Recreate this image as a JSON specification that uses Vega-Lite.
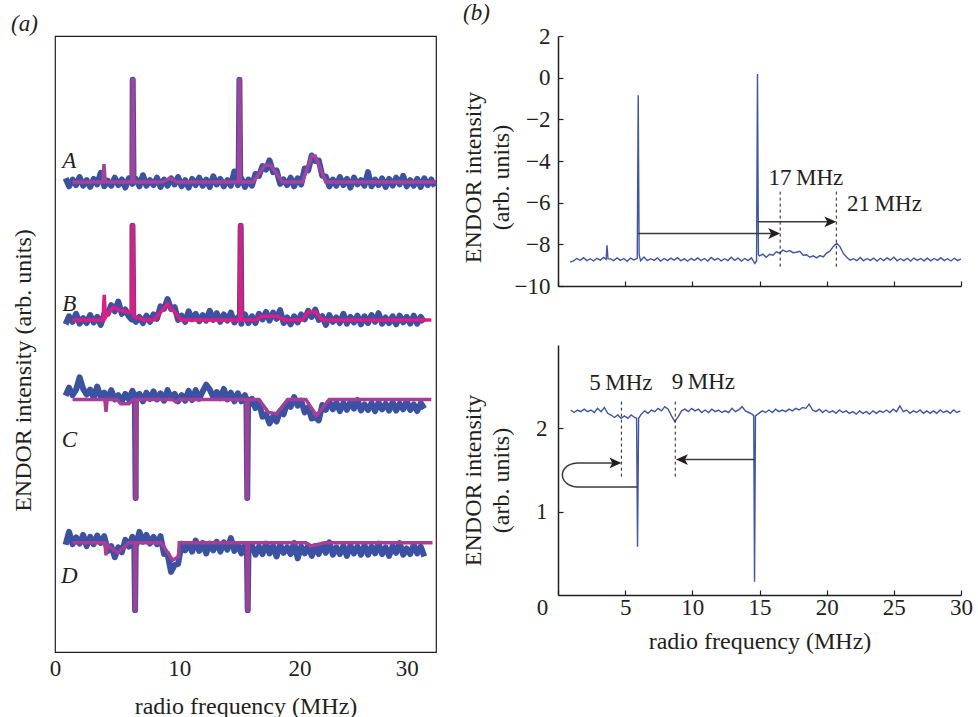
{
"$schema":"https://vega.github.io/schema/vega-lite/v6.json",
"background":"white",
"padding":{"left":10,"top":2,"right":0,"bottom":0},
"config":{"font":"Liberation Serif","view":{"stroke":null},
"axis":{"grid":false,"labelFont":"Liberation Serif","titleFont":"Liberation Serif","labelFontSize":23,"titleFontSize":24,"titleFontWeight":"normal","labelColor":"#231f20","titleColor":"#231f20","domainColor":"#231f20","tickColor":"#231f20","domainWidth":1.5,"tickWidth":1.2},
"title":{"font":"Liberation Serif","fontSize":23,"fontWeight":"normal","fontStyle":"italic","color":"#231f20"},
"text":{"font":"Liberation Serif"}},
"datasets":{
"wide":[
{"f":0.9,"A":76.9,"B":53.2,"C":41.6,"D":17.4},{"f":1.2,"A":75.6,"B":54.5,"C":42.9,"D":19.5},{"f":1.5,"A":76.7,"B":53.6,"C":41.7,"D":17.5},{"f":1.8,"A":75.8,"B":54.9,"C":42.6,"D":18.6},{"f":2.1,"A":77.1,"B":53.3,"C":44.6,"D":17.6},{"f":2.4,"A":75.7,"B":54.2,"C":42.7,"D":19.0},{"f":2.7,"A":76.6,"B":53.4,"C":41.8,"D":17.2},{"f":3.0,"A":75.5,"B":54.7,"C":42.6,"D":18.7},{"f":3.3,"A":76.8,"B":53.5,"C":41.3,"D":17.5},{"f":3.6,"A":75.9,"B":54.4,"C":43.1,"D":18.9},
{"f":3.9,"A":77.8,"B":53.1,"C":41.4,"D":17.7},{"f":4.2,"A":75.6,"B":54.9,"C":42.1,"D":18.8},{"f":4.5,"A":76.5,"B":54.9,"C":41.3,"D":16.4},{"f":4.8,"A":75.7,"B":56.3,"C":42.5,"D":17.2},{"f":5.1,"A":77.0,"B":55.3,"C":41.0,"D":15.4},{"f":5.4,"A":75.8,"B":56.9,"C":41.7,"D":17.0},{"f":5.7,"A":76.7,"B":54.9,"C":40.7,"D":16.2},{"f":6.0,"A":75.4,"B":55.6,"C":41.9,"D":18.2},{"f":6.3,"A":76.9,"B":54.5,"C":41.0,"D":17.1},{"f":6.6,"A":76.0,"B":55.5,"C":42.4,"D":18.7},
{"f":6.9,"A":76.8,"B":53.6,"C":40.9,"D":17.2},{"f":7.2,"A":75.6,"B":54.4,"C":41.9,"D":19.5},{"f":7.5,"A":77.4,"B":53.4,"C":40.7,"D":17.9},{"f":7.8,"A":75.7,"B":54.6,"C":42.1,"D":19.0},{"f":8.1,"A":76.6,"B":53.6,"C":41.1,"D":17.6},{"f":8.4,"A":75.8,"B":54.8,"C":42.3,"D":18.7},{"f":8.7,"A":77.0,"B":54.1,"C":41.0,"D":17.5},{"f":9.0,"A":75.5,"B":56.1,"C":42.0,"D":18.8},{"f":9.3,"A":76.7,"B":55.7,"C":40.8,"D":15.9},{"f":9.6,"A":75.7,"B":57.3,"C":42.5,"D":15.9},
{"f":9.9,"A":76.9,"B":55.7,"C":41.2,"D":13.0},{"f":10.2,"A":75.9,"B":56.0,"C":41.9,"D":14.1},{"f":10.5,"A":77.1,"B":53.9,"C":40.7,"D":14.3},{"f":10.8,"A":75.6,"B":54.6,"C":41.7,"D":17.6},{"f":11.1,"A":76.6,"B":53.6,"C":40.8,"D":16.5},{"f":11.4,"A":75.4,"B":55.3,"C":42.4,"D":17.5},{"f":11.7,"A":76.8,"B":54.0,"C":40.9,"D":16.3},{"f":12.0,"A":75.8,"B":54.9,"C":42.5,"D":18.1},{"f":12.3,"A":77.0,"B":53.7,"C":41.1,"D":16.4},{"f":12.6,"A":75.7,"B":54.7,"C":42.3,"D":17.7},
{"f":12.9,"A":76.7,"B":53.8,"C":43.4,"D":16.0},{"f":13.2,"A":75.5,"B":55.4,"C":42.6,"D":17.6},{"f":13.5,"A":77.2,"B":53.9,"C":41.4,"D":16.5},{"f":13.8,"A":75.9,"B":55.0,"C":42.2,"D":17.9},{"f":14.1,"A":76.8,"B":53.6,"C":41.2,"D":16.3},{"f":14.4,"A":75.6,"B":54.8,"C":42.7,"D":17.8},{"f":14.7,"A":76.6,"B":53.8,"C":41.0,"D":16.6},{"f":15.0,"A":75.7,"B":55.1,"C":42.1,"D":18.5},{"f":15.3,"A":78.0,"B":53.5,"C":40.7,"D":16.4},{"f":15.6,"A":75.8,"B":54.3,"C":42.0,"D":17.5},
{"f":15.9,"A":76.9,"B":53.3,"C":40.7,"D":16.0},{"f":16.2,"A":75.5,"B":54.8,"C":41.7,"D":17.4},{"f":16.5,"A":76.7,"B":53.4,"C":39.9,"D":16.0},{"f":16.8,"A":75.7,"B":54.5,"C":41.1,"D":17.3},{"f":17.1,"A":77.6,"B":53.4,"C":39.6,"D":15.8},{"f":17.4,"A":77.3,"B":54.9,"C":40.6,"D":17.1},{"f":17.7,"A":78.9,"B":54.0,"C":38.2,"D":15.9},{"f":18.0,"A":78.3,"B":55.2,"C":38.6,"D":17.6},{"f":18.3,"A":79.8,"B":53.8,"C":37.1,"D":16.0},{"f":18.6,"A":77.9,"B":55.1,"C":38.2,"D":17.2},
{"f":18.9,"A":78.2,"B":54.1,"C":37.4,"D":15.5},{"f":19.2,"A":76.0,"B":55.5,"C":39.1,"D":17.4},{"f":19.5,"A":76.7,"B":53.4,"C":38.6,"D":16.1},{"f":19.8,"A":75.8,"B":54.3,"C":40.4,"D":17.0},{"f":20.1,"A":77.0,"B":53.2,"C":39.8,"D":15.9},{"f":20.4,"A":75.6,"B":54.5,"C":41.4,"D":17.7},{"f":20.7,"A":76.9,"B":53.5,"C":40.0,"D":15.2},{"f":21.0,"A":75.9,"B":54.8,"C":40.8,"D":17.1},{"f":21.3,"A":78.5,"B":54.0,"C":38.9,"D":16.0},{"f":21.6,"A":78.2,"B":55.4,"C":39.7,"D":17.3},
{"f":21.9,"A":80.6,"B":54.4,"C":37.9,"D":15.6},{"f":22.2,"A":79.7,"B":55.6,"C":38.1,"D":17.2},{"f":22.5,"A":79.8,"B":53.9,"C":37.6,"D":15.9},{"f":22.8,"A":77.3,"B":54.5,"C":40.1,"D":17.4},{"f":23.1,"A":77.2,"B":53.1,"C":39.3,"D":16.1},{"f":23.4,"A":75.6,"B":54.7,"C":40.6,"D":17.8},{"f":23.7,"A":76.7,"B":53.6,"C":39.4,"D":15.8},{"f":24.0,"A":75.7,"B":54.3,"C":40.5,"D":17.0},{"f":24.3,"A":77.1,"B":53.4,"C":39.1,"D":15.9},{"f":24.6,"A":75.8,"B":54.9,"C":40.4,"D":17.2},
{"f":24.9,"A":76.8,"B":53.3,"C":39.3,"D":15.6},{"f":25.2,"A":75.4,"B":54.4,"C":40.6,"D":17.3},{"f":25.5,"A":77.0,"B":53.5,"C":39.5,"D":16.0},{"f":25.8,"A":75.9,"B":54.6,"C":40.9,"D":17.1},{"f":26.1,"A":76.6,"B":53.2,"C":39.2,"D":15.8},{"f":26.4,"A":75.7,"B":54.5,"C":40.2,"D":17.3},{"f":26.7,"A":77.9,"B":53.4,"C":39.3,"D":15.8},{"f":27.0,"A":75.6,"B":54.7,"C":40.4,"D":17.1},{"f":27.3,"A":76.7,"B":53.6,"C":39.1,"D":16.0},{"f":27.6,"A":75.8,"B":55.0,"C":40.5,"D":17.6},
{"f":27.9,"A":76.9,"B":53.3,"C":39.4,"D":15.9},{"f":28.2,"A":75.5,"B":54.3,"C":40.3,"D":17.0},{"f":28.5,"A":76.8,"B":53.4,"C":39.2,"D":15.6},{"f":28.8,"A":75.7,"B":54.5,"C":40.5,"D":17.2},{"f":29.1,"A":77.0,"B":53.2,"C":39.2,"D":16.1},{"f":29.4,"A":75.9,"B":54.6,"C":40.3,"D":17.7},{"f":29.7,"A":77.3,"B":53.5,"C":39.4,"D":15.8},{"f":30.0,"A":75.6,"B":54.4,"C":40.7,"D":16.8},{"f":30.3,"A":76.6,"B":53.3,"C":39.3,"D":15.9},{"f":30.6,"A":75.7,"B":54.6,"C":40.2,"D":17.4},
{"f":30.9,"A":76.8,"B":53.3,"C":39.1,"D":16.0},{"f":31.2,"A":75.5,"B":54.4,"C":40.4,"D":17.1},{"f":31.5,"A":76.9,"B":53.5,"C":39.5,"D":15.5},{"f":31.8,"A":75.8},{"f":32.1,"A":76.7},{"f":32.4,"A":75.6},
{"f":6.56,"A":76.3},{"f":6.63,"A":92.9},{"f":6.70,"A":76.3},{"f":15.66,"A":76.3},{"f":15.73,"A":92.9},{"f":15.80,"A":76.3},
{"f":6.54,"B":54.0},{"f":6.61,"B":69.2},{"f":6.68,"B":54.0},{"f":15.77,"B":54.0},{"f":15.84,"B":69.2},{"f":15.91,"B":54.0},
{"f":6.81,"C":41.6},{"f":6.88,"C":25.0},{"f":6.94,"C":41.6},{"f":16.33,"C":41.0},{"f":16.40,"C":25.0},{"f":16.47,"C":41.0},
{"f":6.76,"D":18.2},{"f":6.83,"D":6.8},{"f":6.89,"D":18.2},{"f":16.37,"D":16.8},{"f":16.44,"D":6.8},{"f":16.51,"D":16.8}
],
"fit":[
{"s":"A","f":1.5,"v":76.3},{"s":"A","f":4.08,"v":76.3},{"s":"A","f":4.18,"v":79.2},{"s":"A","f":4.28,"v":76.3},{"s":"A","f":6.56,"v":76.3},{"s":"A","f":6.61,"v":92.9},{"s":"A","f":6.66,"v":92.9},{"s":"A","f":6.71,"v":76.3},{"s":"A","f":9.2,"v":76.3},{"s":"A","f":9.8,"v":76.9},{"s":"A","f":10.4,"v":76.3},{"s":"A","f":15.66,"v":76.3},{"s":"A","f":15.71,"v":92.9},{"s":"A","f":15.76,"v":92.9},{"s":"A","f":15.81,"v":76.3},{"s":"A","f":16.9,"v":76.3},{"s":"A","f":17.9,"v":79.0},{"s":"A","f":18.4,"v":79.0},{"s":"A","f":19.4,"v":76.3},{"s":"A","f":21.1,"v":76.3},{"s":"A","f":21.9,"v":80.5},{"s":"A","f":22.2,"v":80.5},{"s":"A","f":23.1,"v":76.3},{"s":"A","f":32.5,"v":76.3},
{"s":"B","f":1.5,"v":53.9},{"s":"B","f":4.1,"v":53.9},{"s":"B","f":4.2,"v":58.0},{"s":"B","f":4.3,"v":54.3},{"s":"B","f":4.6,"v":55.2},{"s":"B","f":5.0,"v":56.0},{"s":"B","f":5.5,"v":55.5},{"s":"B","f":6.3,"v":55.2},{"s":"B","f":6.54,"v":55.2},{"s":"B","f":6.59,"v":69.2},{"s":"B","f":6.64,"v":69.2},{"s":"B","f":6.72,"v":54.5},{"s":"B","f":7.6,"v":53.9},{"s":"B","f":8.45,"v":53.9},{"s":"B","f":9.6,"v":56.5},{"s":"B","f":10.75,"v":53.9},{"s":"B","f":15.75,"v":53.9},{"s":"B","f":15.8,"v":69.2},{"s":"B","f":15.85,"v":69.2},{"s":"B","f":15.9,"v":53.9},{"s":"B","f":17.15,"v":53.9},{"s":"B","f":17.6,"v":54.5},{"s":"B","f":19.0,"v":54.5},{"s":"B","f":19.55,"v":53.9},{"s":"B","f":21.1,"v":53.9},{"s":"B","f":21.6,"v":55.2},{"s":"B","f":22.2,"v":55.2},{"s":"B","f":22.8,"v":53.9},{"s":"B","f":32.1,"v":53.9},
{"s":"C","f":1.5,"v":41.0},{"s":"C","f":4.25,"v":41.0},{"s":"C","f":4.35,"v":39.0},{"s":"C","f":4.45,"v":41.0},{"s":"C","f":5.3,"v":41.0},{"s":"C","f":5.6,"v":40.3},{"s":"C","f":6.3,"v":40.3},{"s":"C","f":6.7,"v":41.0},{"s":"C","f":6.83,"v":41.0},{"s":"C","f":6.86,"v":25.0},{"s":"C","f":6.92,"v":25.0},{"s":"C","f":6.95,"v":41.0},{"s":"C","f":10.0,"v":41.0},{"s":"C","f":10.3,"v":40.6},{"s":"C","f":10.6,"v":41.0},{"s":"C","f":16.33,"v":41.0},{"s":"C","f":16.36,"v":25.0},{"s":"C","f":16.42,"v":25.0},{"s":"C","f":16.45,"v":41.0},{"s":"C","f":17.4,"v":41.0},{"s":"C","f":18.2,"v":38.9},{"s":"C","f":18.9,"v":38.7},{"s":"C","f":19.85,"v":41.0},{"s":"C","f":21.4,"v":41.0},{"s":"C","f":22.3,"v":38.4},{"s":"C","f":23.4,"v":41.0},{"s":"C","f":32.1,"v":41.0},
{"s":"D","f":1.5,"v":17.75},{"s":"D","f":4.25,"v":17.75},{"s":"D","f":4.35,"v":15.7},{"s":"D","f":4.45,"v":17.4},{"s":"D","f":5.35,"v":16.1},{"s":"D","f":6.3,"v":17.75},{"s":"D","f":6.78,"v":17.75},{"s":"D","f":6.81,"v":6.8},{"s":"D","f":6.87,"v":6.8},{"s":"D","f":6.9,"v":17.75},{"s":"D","f":9.05,"v":17.75},{"s":"D","f":10.05,"v":14.9},{"s":"D","f":10.55,"v":15.5},{"s":"D","f":10.6,"v":17.75},{"s":"D","f":16.38,"v":17.75},{"s":"D","f":16.41,"v":6.8},{"s":"D","f":16.47,"v":6.8},{"s":"D","f":16.5,"v":17.75},{"s":"D","f":21.4,"v":17.75},{"s":"D","f":21.8,"v":17.2},{"s":"D","f":22.5,"v":17.5},{"s":"D","f":23.0,"v":17.75},{"s":"D","f":32.2,"v":17.75}
],
"top":[
{"f":0.9,"v":-8.85},{"f":1.15,"v":-8.79},{"f":1.4,"v":-8.68},{"f":1.65,"v":-8.77},{"f":1.9,"v":-8.64},{"f":2.15,"v":-8.78},{"f":2.4,"v":-8.69},{"f":2.65,"v":-8.8},{"f":2.9,"v":-8.67},{"f":3.15,"v":-8.76},{"f":3.4,"v":-8.63},{"f":3.58,"v":-8.72},{"f":3.65,"v":-8.05},{"f":3.72,"v":-8.7},{"f":3.9,"v":-8.7},{"f":4.15,"v":-8.78},{"f":4.4,"v":-8.65},{"f":4.65,"v":-8.77},{"f":4.9,"v":-8.68},{"f":5.15,"v":-8.81},{"f":5.4,"v":-8.66},{"f":5.65,"v":-8.75},{"f":5.9,"v":-8.67},{"f":5.97,"v":-0.85},{"f":6.04,"v":-8.5},{"f":6.15,"v":-8.79},{"f":6.4,"v":-8.61},{"f":6.65,"v":-8.78},{"f":6.9,"v":-8.69},{"f":7.15,"v":-8.77},{"f":7.4,"v":-8.65},{"f":7.65,"v":-8.8},{"f":7.9,"v":-8.68},{"f":8.15,"v":-8.78},{"f":8.4,"v":-8.66},{"f":8.65,"v":-8.76},{"f":8.9,"v":-8.64},{"f":9.15,"v":-8.79},{"f":9.4,"v":-8.69},{"f":9.65,"v":-8.81},{"f":9.9,"v":-8.67},{"f":10.15,"v":-8.77},{"f":10.4,"v":-8.65},{"f":10.65,"v":-8.78},{"f":10.9,"v":-8.68},{"f":11.15,"v":-8.8},{"f":11.4,"v":-8.63},{"f":11.65,"v":-8.76},{"f":11.9,"v":-8.67},{"f":12.15,"v":-8.79},{"f":12.4,"v":-8.69},{"f":12.65,"v":-8.78},{"f":12.9,"v":-8.62},{"f":13.15,"v":-8.77},{"f":13.4,"v":-8.66},{"f":13.65,"v":-8.8},{"f":13.9,"v":-8.68},{"f":14.15,"v":-8.78},{"f":14.4,"v":-8.65},{"f":14.65,"v":-8.92},{"f":14.78,"v":-8.8},{"f":14.85,"v":0.17},{"f":14.92,"v":-8.5},{"f":15.0,"v":-8.55},{"f":15.25,"v":-8.47},{"f":15.5,"v":-8.62},{"f":15.75,"v":-8.48},{"f":16.0,"v":-8.52},{"f":16.25,"v":-8.36},{"f":16.5,"v":-8.42},{"f":16.75,"v":-8.28},{"f":17.0,"v":-8.36},{"f":17.25,"v":-8.3},{"f":17.5,"v":-8.4},{"f":17.75,"v":-8.38},{"f":18.0,"v":-8.33},{"f":18.25,"v":-8.52},{"f":18.5,"v":-8.5},{"f":18.75,"v":-8.62},{"f":19.0,"v":-8.55},{"f":19.25,"v":-8.65},{"f":19.5,"v":-8.54},{"f":19.75,"v":-8.6},{"f":20.0,"v":-8.42},{"f":20.25,"v":-8.32},{"f":20.5,"v":-8.1},{"f":20.75,"v":-7.95},{"f":21.0,"v":-8.12},{"f":21.25,"v":-8.45},{"f":21.5,"v":-8.62},{"f":21.75,"v":-8.76},{"f":22.0,"v":-8.69},{"f":22.25,"v":-8.78},{"f":22.5,"v":-8.63},{"f":22.75,"v":-8.79},{"f":23.0,"v":-8.68},{"f":23.25,"v":-8.77},{"f":23.5,"v":-8.66},{"f":23.75,"v":-8.8},{"f":24.0,"v":-8.67},{"f":24.25,"v":-8.78},{"f":24.5,"v":-8.65},{"f":24.75,"v":-8.76},{"f":25.0,"v":-8.62},{"f":25.25,"v":-8.79},{"f":25.5,"v":-8.69},{"f":25.75,"v":-8.78},{"f":26.0,"v":-8.67},{"f":26.25,"v":-8.8},{"f":26.5,"v":-8.66},{"f":26.75,"v":-8.77},{"f":27.0,"v":-8.68},{"f":27.25,"v":-8.79},{"f":27.5,"v":-8.66},{"f":27.75,"v":-8.79},{"f":28.0,"v":-8.68},{"f":28.25,"v":-8.77},{"f":28.5,"v":-8.64},{"f":28.75,"v":-8.78},{"f":29.0,"v":-8.69},{"f":29.25,"v":-8.8},{"f":29.5,"v":-8.67},{"f":29.75,"v":-8.78},{"f":30.0,"v":-8.7}
],
"bot":[
{"f":0.95,"v":2.22},{"f":1.2,"v":2.19},{"f":1.45,"v":2.22},{"f":1.7,"v":2.2},{"f":1.95,"v":2.23},{"f":2.2,"v":2.2},{"f":2.45,"v":2.22},{"f":2.7,"v":2.19},{"f":2.95,"v":2.24},{"f":3.2,"v":2.2},{"f":3.45,"v":2.25},{"f":3.7,"v":2.18},{"f":3.95,"v":2.16},{"f":4.2,"v":2.13},{"f":4.45,"v":2.16},{"f":4.7,"v":2.12},{"f":4.95,"v":2.15},{"f":5.2,"v":2.12},{"f":5.45,"v":2.16},{"f":5.7,"v":2.13},{"f":5.85,"v":2.12},{"f":5.92,"v":0.58},{"f":6.0,"v":2.12},{"f":6.2,"v":2.17},{"f":6.45,"v":2.21},{"f":6.7,"v":2.18},{"f":6.95,"v":2.22},{"f":7.2,"v":2.2},{"f":7.45,"v":2.24},{"f":7.7,"v":2.21},{"f":7.95,"v":2.26},{"f":8.2,"v":2.23},{"f":8.45,"v":2.15},{"f":8.7,"v":2.08},{"f":8.95,"v":2.14},{"f":9.2,"v":2.21},{"f":9.45,"v":2.23},{"f":9.7,"v":2.2},{"f":9.95,"v":2.24},{"f":10.2,"v":2.21},{"f":10.45,"v":2.23},{"f":10.7,"v":2.19},{"f":10.95,"v":2.22},{"f":11.2,"v":2.19},{"f":11.45,"v":2.23},{"f":11.7,"v":2.2},{"f":11.95,"v":2.22},{"f":12.2,"v":2.19},{"f":12.45,"v":2.21},{"f":12.7,"v":2.19},{"f":12.95,"v":2.24},{"f":13.2,"v":2.2},{"f":13.45,"v":2.22},{"f":13.7,"v":2.26},{"f":13.95,"v":2.21},{"f":14.2,"v":2.19},{"f":14.45,"v":2.17},{"f":14.57,"v":2.15},{"f":14.63,"v":0.16},{"f":14.7,"v":2.15},{"f":14.95,"v":2.18},{"f":15.2,"v":2.21},{"f":15.45,"v":2.19},{"f":15.7,"v":2.22},{"f":15.95,"v":2.19},{"f":16.2,"v":2.23},{"f":16.45,"v":2.2},{"f":16.7,"v":2.22},{"f":16.95,"v":2.2},{"f":17.2,"v":2.23},{"f":17.45,"v":2.21},{"f":17.7,"v":2.24},{"f":17.95,"v":2.22},{"f":18.2,"v":2.25},{"f":18.45,"v":2.24},{"f":18.7,"v":2.29},{"f":18.95,"v":2.22},{"f":19.2,"v":2.2},{"f":19.45,"v":2.23},{"f":19.7,"v":2.19},{"f":19.95,"v":2.22},{"f":20.2,"v":2.19},{"f":20.45,"v":2.21},{"f":20.7,"v":2.18},{"f":20.95,"v":2.22},{"f":21.2,"v":2.19},{"f":21.45,"v":2.21},{"f":21.7,"v":2.18},{"f":21.95,"v":2.2},{"f":22.2,"v":2.17},{"f":22.45,"v":2.21},{"f":22.7,"v":2.18},{"f":22.95,"v":2.2},{"f":23.2,"v":2.17},{"f":23.45,"v":2.21},{"f":23.7,"v":2.18},{"f":23.95,"v":2.21},{"f":24.2,"v":2.19},{"f":24.45,"v":2.22},{"f":24.7,"v":2.19},{"f":24.95,"v":2.23},{"f":25.2,"v":2.2},{"f":25.45,"v":2.27},{"f":25.7,"v":2.2},{"f":25.95,"v":2.22},{"f":26.2,"v":2.18},{"f":26.45,"v":2.21},{"f":26.7,"v":2.19},{"f":26.95,"v":2.22},{"f":27.2,"v":2.18},{"f":27.45,"v":2.21},{"f":27.7,"v":2.18},{"f":27.95,"v":2.21},{"f":28.2,"v":2.18},{"f":28.45,"v":2.22},{"f":28.7,"v":2.19},{"f":28.95,"v":2.21},{"f":29.2,"v":2.18},{"f":29.45,"v":2.22},{"f":29.7,"v":2.19},{"f":29.95,"v":2.21}
]
},
"bounds":"flush",
"spacing":122,
"hconcat":[
{
"width":381,"height":616,
"view":{"stroke":"#231f20","strokeWidth":1.2},
"title":{"text":"(a)","anchor":"start","frame":"group","dx":-44,"offset":0},
"encoding":{
"x":{"field":"f","type":"quantitative","scale":{"domain":[0,32.5],"nice":false,"zero":false},
"axis":{"values":[0,10,20,30],"ticks":false,"domain":false,"labelFlush":false,"labelPadding":5,"labelOffset":{"condition":[{"test":"datum.value==10","value":7},{"test":"datum.value==20","value":10}],"value":0},"title":"radio frequency (MHz)","titlePadding":14}},
"y":{"field":"v","type":"quantitative","scale":{"domain":[0,100],"nice":false,"zero":false},
"axis":{"labels":false,"ticks":false,"domain":false,"title":"ENDOR intensity (arb. units)","titlePadding":20,"titleY":334}}
},
"layer":[
{"data":{"name":"wide"},"transform":[{"fold":["A","B","C","D"],"as":["s","v"]},{"filter":"isValid(datum.v)"}],
"mark":{"type":"line","color":"#3b52a3","strokeWidth":6,"strokeJoin":"round"},
"encoding":{"detail":{"field":"s","type":"nominal"}}},
{"data":{"name":"fit"},"mark":{"type":"line","strokeWidth":3.5},
"encoding":{"color":{"field":"s","type":"nominal","scale":{"domain":["A","B","C","D"],"range":["#a8409e","#e31a82","#a63d98","#a63d98"]},"legend":null}}},
{"data":{"values":[{"s":"A","f":1.22,"v":79.7},{"s":"B","f":1.22,"v":56.5},{"s":"C","f":1.22,"v":34.4},{"s":"D","f":1.22,"v":12.4}]},
"mark":{"type":"text","fontSize":23,"fontStyle":"italic","color":"#231f20","align":"center","baseline":"middle"},
"encoding":{"text":{"field":"s"}}}
]
},
{
"vconcat":[
{
"width":403,"height":250,
"title":{"text":"(b)","anchor":"start","frame":"group","dx":-95,"offset":0},
"encoding":{
"x":{"field":"f","type":"quantitative","scale":{"domain":[0,30],"nice":false,"zero":false},
"axis":{"values":[0,5,10,15,20,25,30],"labels":false,"tickSize":-5,"title":null}},
"y":{"field":"v","type":"quantitative","scale":{"domain":[-10,2],"nice":false,"zero":false},
"axis":{"values":[-10,-8,-6,-4,-2,0,2],"tickSize":-5,"labelPadding":13,"title":["ENDOR intensity","(arb. units)"],"titleLineHeight":28,"titleX":-73,"titleY":141}}
},
"layer":[
{"data":{"name":"top"},"mark":{"type":"line","color":"#3c56a8","strokeWidth":1.4}},
{"data":{"values":[{"f":16.54,"v":-5.47,"v2":-9.16},{"f":20.72,"v":-5.47,"v2":-9.16}]},"mark":{"type":"rule","color":"#231f20","strokeWidth":1,"strokeDash":[3,3]},"encoding":{"y2":{"field":"v2"}}},
{"data":{"values":[{"f":5.97,"f2":16.3,"v":-7.48},{"f":14.85,"f2":20.5,"v":-6.92}]},"mark":{"type":"rule","color":"#3a3a3a","strokeWidth":1.5},"encoding":{"x2":{"field":"f2"}}},
{"data":{"values":[{"f":16.54,"v":-7.48},{"f":20.72,"v":-6.92}]},"mark":{"type":"point","shape":"M-1,-0.45L0,0L-1,0.45L-0.75,0Z","filled":true,"size":576,"color":"#231f20","opacity":1}},
{"data":{"values":[{"f":18.45,"v":-4.83,"t":"17\u2009MHz"},{"f":24.3,"v":-6.04,"t":"21\u2009MHz"}]},"mark":{"type":"text","fontSize":23,"color":"#231f20","align":"center","baseline":"middle"},"encoding":{"text":{"field":"t"}}}
]
},
{
"width":403,"height":250,
"encoding":{
"x":{"field":"f","type":"quantitative","scale":{"domain":[0,30],"nice":false,"zero":false},
"axis":{"values":[0,5,10,15,20,25,30],"tickSize":-5,"labelFlush":false,"labelPadding":6,"labelOffset":{"condition":{"test":"datum.value==0","value":-16},"value":0},"title":"radio frequency (MHz)","titlePadding":10}},
"y":{"field":"v","type":"quantitative","scale":{"domain":[0,3],"nice":false,"zero":false},
"axis":{"values":[1,2],"tickSize":-5,"labelPadding":16,"title":["ENDOR intensity","(arb. units)"],"titleLineHeight":28,"titleX":-73,"titleY":135}}
},
"layer":[
{"data":{"name":"bot"},"mark":{"type":"line","color":"#3c56a8","strokeWidth":1.4}},
{"data":{"values":[{"f":4.72,"v":2.32,"v2":1.42},{"f":8.73,"v":2.32,"v2":1.42}]},"mark":{"type":"rule","color":"#231f20","strokeWidth":1,"strokeDash":[3,3]},"encoding":{"y2":{"field":"v2"}}},
{"data":{"values":[{"f":9.1,"f2":14.63,"v":1.625}]},"mark":{"type":"rule","color":"#3a3a3a","strokeWidth":1.5},"encoding":{"x2":{"field":"f2"}}},
{"data":{"values":[{"i":0,"f":5.92,"v":1.297},{"i":1,"f":1.44,"v":1.297},{"i":2,"f":1.15,"v":1.301},{"i":3,"f":0.88,"v":1.316},{"i":4,"f":0.65,"v":1.339},{"i":5,"f":0.47,"v":1.369},{"i":6,"f":0.36,"v":1.403},{"i":7,"f":0.32,"v":1.441},{"i":8,"f":0.36,"v":1.478},{"i":9,"f":0.47,"v":1.513},{"i":10,"f":0.65,"v":1.543},{"i":11,"f":0.88,"v":1.565},{"i":12,"f":1.15,"v":1.579},{"i":13,"f":1.44,"v":1.585},{"i":14,"f":4.5,"v":1.585}]},
"mark":{"type":"line","color":"#3a3a3a","strokeWidth":1.5},"encoding":{"order":{"field":"i","type":"quantitative"}}},
{"data":{"values":[{"f":4.72,"v":1.585}]},"mark":{"type":"point","shape":"M-1,-0.45L0,0L-1,0.45L-0.75,0Z","filled":true,"size":576,"color":"#231f20","opacity":1}},
{"data":{"values":[{"f":8.78,"v":1.625}]},"mark":{"type":"point","shape":"M1,-0.45L0,0L1,0.45L0.75,0Z","filled":true,"size":576,"color":"#231f20","opacity":1}},
{"data":{"values":[{"f":4.68,"v":2.55,"t":"5\u2009MHz"},{"f":10.82,"v":2.56,"t":"9\u2009MHz"}]},"mark":{"type":"text","fontSize":23,"color":"#231f20","align":"center","baseline":"middle"},"encoding":{"text":{"field":"t"}}}
]
}
],
"spacing":59,
"bounds":"flush"
}
]
}
